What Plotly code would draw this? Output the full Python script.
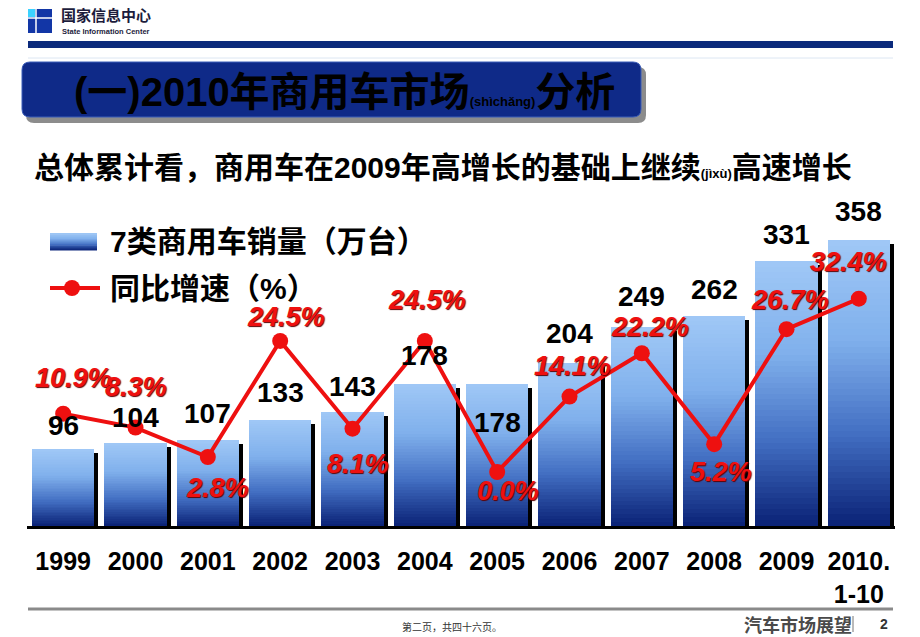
import plotly.graph_objects as go

# ---------------- data ----------------
YEARS = ["1999", "2000", "2001", "2002", "2003", "2004", "2005", "2006", "2007", "2008", "2009", "2010.<br>1-10"]
SALES = [96, 104, 107, 133, 143, 178, 178, 204, 249, 262, 331, 358]          # 万台
GROWTH = [10.9, 8.3, 2.8, 24.5, 8.1, 24.5, 0.0, 14.1, 22.2, 5.2, 26.7, 32.4]  # %
SALES_LABELS = [str(v) for v in SALES]
GROWTH_LABELS = [f"{g:.1f}%" for g in GROWTH]

# ---------------- style ----------------
FIG_W, FIG_H = 920, 637
ML, MR, MT, MB = 27, 25, 200, 111
PW, PH = FIG_W - ML - MR, FIG_H - MT - MB
BASE_Y = FIG_H - MB

def PX(x):
    return (x - ML) / PW

def PY(y):
    return (BASE_Y - y) / PH

# label pixel offsets (style only)
SALES_DY = [24, 25, 27, 27, 25, 28, -39, 29, 30, 27, 27, 28]
GROWTH_DX = [10, 0, 10, 6, 5, 2, 11, 3, 8, 7, 3, -10]
GROWTH_DY = [-36, -41, 31, -24, 35, -41, 19, -31, -26, 28, -29, -37]

STOPS = [(0.0, (160, 200, 246)), (0.35, (128, 176, 236)), (0.68, (66, 110, 194)), (1.0, (10, 34, 118))]

def grad(t):
    for (t0, c0), (t1, c1) in zip(STOPS[:-1], STOPS[1:]):
        if t0 <= t <= t1:
            f = (t - t0) / (t1 - t0)
            c = [round(a + (b - a) * f) for a, b in zip(c0, c1)]
            return f"rgb({c[0]},{c[1]},{c[2]})"
    return "rgb(10,34,118)"

LAT = "Liberation Sans, Noto Sans CJK SC, sans-serif"
CJK = "Liberation Sans, Noto Sans CJK SC, sans-serif"
RED = "#ee1010"

x_idx = list(range(len(YEARS)))
BAR_W = 0.86
BAR_OFF = -0.43
SHADOW_SHIFT = 4 / (PW / len(YEARS))

fig = go.Figure()

# shadow bars
fig.add_trace(go.Bar(
    x=x_idx, y=SALES, base=[-5] * len(SALES), width=BAR_W, offset=BAR_OFF + SHADOW_SHIFT,
    marker=dict(color="black", line=dict(width=0)), showlegend=False, hoverinfo="skip"))

# gradient bars (layered from bottom to top)
N = 48
for k in range(N):
    fig.add_trace(go.Bar(
        x=x_idx, y=[v * (N - k) / N for v in SALES], base=[v * k / N for v in SALES],
        width=BAR_W, offset=BAR_OFF,
        marker=dict(color=grad(1 - (k + 0.5) / N), line=dict(width=0)),
        showlegend=False, hoverinfo="skip" if k else "y", name="7类商用车销量（万台）"))

# growth line
fig.add_trace(go.Scatter(
    x=x_idx, y=GROWTH, yaxis="y2", mode="lines+markers", name="同比增速（%）",
    line=dict(color=RED, width=4), marker=dict(color=RED, size=16), showlegend=False))

ann = []
for i, v in enumerate(SALES):
    ann.append(dict(x=i, y=v, xref="x", yref="y", text=SALES_LABELS[i], showarrow=False,
                    yshift=SALES_DY[i], font=dict(family=LAT, size=28, color="black", weight="bold")))
for i, g in enumerate(GROWTH):
    ann.append(dict(x=i, y=g, xref="x", yref="y2", text=GROWTH_LABELS[i], showarrow=False,
                    xshift=GROWTH_DX[i], yshift=-GROWTH_DY[i],
                    font=dict(family=LAT, size=27, color=RED, weight="bold", style="italic",
                              shadow="1px 1px 1px #600000")))

def pann(x, y, text, size, color="black", anchor="left", family=CJK, bold=True, **kw):
    ann.append(dict(x=PX(x), y=PY(y), xref="paper", yref="paper", text=text, showarrow=False,
                    xanchor=anchor, yanchor="middle",
                    font=dict(family=family, size=size, color=color, weight="bold" if bold else "normal"), **kw))

# header
pann(59, 15, "国家信息中心", 15, color="#1c1c3c", family="Noto Sans CJK SC")
pann(60, 31, "State Information Center", 7.5, color="#1c1c3c", family="Liberation Sans")

# title & subtitle
pann(72, 92, "(一)2010年商用车市场<span style='font-size:13px'>(shìchǎng)</span>分析", 40, color="black")
pann(32, 168, "总体累计看，商用车在2009年高增长的基础上继续<span style='font-size:13px'>(jìxù)</span>高速增长", 30)

# legend text
pann(108, 241, "7类商用车销量（万台）", 30)
pann(108, 288, "同比增速（%）", 30)

# footer
pann(400, 626, "第二页，共四十六页。", 10, color="#333333", family="Noto Sans CJK SC", bold=False)
pann(742, 624, "汽车市场展望", 18, color="#4a4a4a", family="Noto Sans CJK SC")
pann(878, 624, "2", 14, color="#333333", family="Liberation Sans")

shapes = []

def rect(x0, y0, x1, y1, color, **kw):
    shapes.append(dict(type="rect", xref="paper", yref="paper", x0=PX(x0), x1=PX(x1), y0=PY(y0), y1=PY(y1),
                       fillcolor=color, line=dict(width=0), layer="above", **kw))

def line(x0, y0, x1, y1, color, w):
    shapes.append(dict(type="line", xref="paper", yref="paper", x0=PX(x0), x1=PX(x1), y0=PY(y0), y1=PY(y1),
                       line=dict(color=color, width=w), layer="above"))

def rrect(x0, y0, x1, y1, r, color, border=None):
    p = (f"M{PX(x0 + r)},{PY(y0)} L{PX(x1 - r)},{PY(y0)} Q{PX(x1)},{PY(y0)} {PX(x1)},{PY(y0 + r)} "
         f"L{PX(x1)},{PY(y1 - r)} Q{PX(x1)},{PY(y1)} {PX(x1 - r)},{PY(y1)} "
         f"L{PX(x0 + r)},{PY(y1)} Q{PX(x0)},{PY(y1)} {PX(x0)},{PY(y1 - r)} "
         f"L{PX(x0)},{PY(y0 + r)} Q{PX(x0)},{PY(y0)} {PX(x0 + r)},{PY(y0)} Z")
    shapes.append(dict(type="path", xref="paper", yref="paper", path=p, fillcolor=color,
                       line=dict(width=1 if border else 0, color=border or color), layer="below"))

# logo
rect(28, 9, 52, 33, "#1236a6")
rect(28, 9, 35, 17, "#3cd2ff")
line(36, 9, 36, 33, "white", 1.5)
line(28, 18, 52, 18, "white", 1.5)
# header bars
rect(28, 41, 893, 48, "#0b2a7c")
line(28, 58, 893, 58, "#dce6f2", 1)

# banner
rrect(26, 67, 646, 123, 8, "#8c8c8c")
rrect(22, 62, 641, 117, 8, "#0f2a88", border="#3a5cb8")

# legend swatches
S = 14
for j in range(S):
    y0 = 233 + j * 17 / S
    rect(50, y0, 97, y0 + 17 / S + 0.6, grad((j + 0.5) / S))
line(50, 288, 100, 288, RED, 4)
shapes.append(dict(type="circle", xref="paper", yref="paper", x0=PX(64), x1=PX(80), y0=PY(280), y1=PY(296),
                   fillcolor=RED, line=dict(width=0), layer="above"))

# footer
line(28, 609, 893, 609, "#8a8a8a", 3)
line(853, 616, 853, 632, "#777777", 1)

fig.update_layout(
    width=FIG_W, height=FIG_H, margin=dict(l=ML, r=MR, t=MT, b=MB),
    paper_bgcolor="white", plot_bgcolor="white",
    barmode="overlay", bargap=0, showlegend=False,
    xaxis=dict(range=[-0.5, len(YEARS) - 0.5], tickvals=x_idx, ticktext=YEARS, ticks="",
               showgrid=False, zeroline=False, showline=True, linecolor="black", linewidth=3,
               ticklabelstandoff=11,
               tickfont=dict(family=LAT, size=25, color="black", weight="bold"), fixedrange=True),
    yaxis=dict(range=[0, PH / 0.8], visible=False, showgrid=False, fixedrange=True),
    yaxis2=dict(range=[-(BASE_Y - 472) / 5.35, (472 - MT) / 5.35], overlaying="y", side="right",
                visible=False, showgrid=False, fixedrange=True),
    annotations=ann, shapes=shapes,
)

fig.write_html("out.html")
